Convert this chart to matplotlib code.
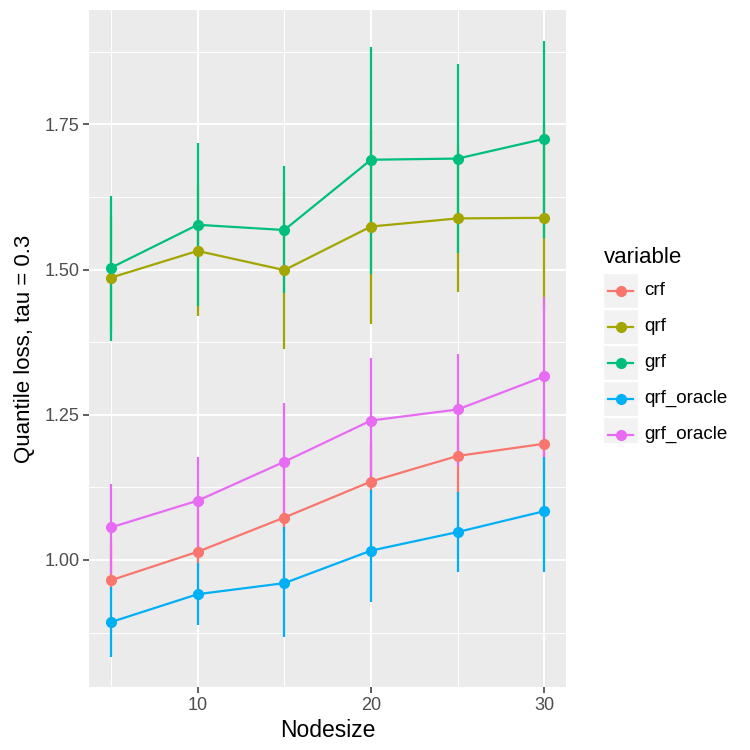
import matplotlib
matplotlib.use("Agg")
import matplotlib.pyplot as plt
from matplotlib.patches import Rectangle

plt.rcParams['font.family'] = ['Liberation Sans', 'DejaVu Sans']

nodesize = [5, 10, 15, 20, 25, 30]
variables = ["crf", "qrf", "grf", "qrf_oracle", "grf_oracle"]
colors = ["#F8766D", "#A3A500", "#00BF7D", "#00B0F6", "#E76BF3"]

# mean loss per method
crf = [0.965, 1.014, 1.073, 1.135, 1.179, 1.200]
qrf = [1.486, 1.532, 1.499, 1.574, 1.588, 1.589]
grf = [1.503, 1.577, 1.568, 1.689, 1.691, 1.725]
qrf_oracle = [0.893, 0.941, 0.960, 1.016, 1.048, 1.084]
grf_oracle = [1.056, 1.102, 1.169, 1.240, 1.259, 1.316]

# error bar ends
crf_lo = [0.950, 0.990, 1.050, 1.115, 1.112, 1.150]
crf_hi = [1.030, 1.080, 1.140, 1.200, 1.240, 1.260]
qrf_lo = [1.390, 1.420, 1.364, 1.406, 1.461, 1.430]
qrf_hi = [1.590, 1.645, 1.633, 1.740, 1.714, 1.750]
grf_lo = [1.377, 1.437, 1.459, 1.493, 1.529, 1.555]
grf_hi = [1.627, 1.717, 1.678, 1.883, 1.853, 1.893]
qrfo_lo = [0.833, 0.888, 0.867, 0.928, 0.980, 0.980]
qrfo_hi = [0.954, 0.994, 1.056, 1.120, 1.117, 1.178]
grfo_lo = [0.975, 1.020, 1.070, 1.135, 1.161, 1.178]
grfo_hi = [1.130, 1.177, 1.270, 1.347, 1.355, 1.453]

means = [crf, qrf, grf, qrf_oracle, grf_oracle]
lows = [crf_lo, qrf_lo, grf_lo, qrfo_lo, grfo_lo]
highs = [crf_hi, qrf_hi, grf_hi, qrfo_hi, grfo_hi]

fig = plt.figure(figsize=(7.5, 7.5), dpi=100)
ax = fig.add_axes([89.3 / 750, 63 / 750, 476.7 / 750, 677 / 750])
ax.set_facecolor("#EBEBEB")
for s in ax.spines.values():
    s.set_visible(False)

# error bars first, then lines and points on top
for m, lo, hi, c in zip(means, lows, highs, colors):
    ax.vlines(nodesize, lo, hi, color=c, lw=1.6, zorder=2)
for m, c in zip(means, colors):
    ax.plot(nodesize, m, color=c, lw=1.6, marker="o", ms=7, zorder=3)

ax.set_xlim(3.75, 31.25)
ax.set_ylim(0.7812, 1.9468)
ax.set_xticks([10, 20, 30])
ax.set_xticks([5, 15, 25], minor=True)
ax.set_yticks([1.00, 1.25, 1.50, 1.75])
ax.set_yticklabels(["1.00", "1.25", "1.50", "1.75"])
ax.set_yticks([0.875, 1.125, 1.375, 1.625, 1.875], minor=True)
ax.grid(which="major", color="white", lw=1.4, zorder=0)
ax.grid(which="minor", color="white", lw=0.7, zorder=0)
ax.set_axisbelow(True)
ax.tick_params(which="major", length=4, width=1.1, color="#333333",
               labelcolor="#4D4D4D", labelsize=13, pad=3)
ax.tick_params(which="minor", length=0)

ax.set_xlabel("Nodesize", fontsize=16.5, labelpad=4)
ax.set_ylabel("Quantile loss, tau = 0.3", fontsize=16, labelpad=7)

# legend drawn in its own axes, ggplot style
lax = fig.add_axes([600 / 750, 307 / 750, 150 / 750, 200 / 750])
lax.set_xlim(0, 150)
lax.set_ylim(200, 0)
lax.axis("off")
lax.text(4, 14, "variable", fontsize=16, va="center", ha="left")
for i, (name, c) in enumerate(zip(variables, colors)):
    y0 = 30 + i * 36
    lax.add_patch(Rectangle((3, y0), 35, 35, facecolor="#F2F2F2",
                            edgecolor="white", lw=1))
    lax.plot([8, 33], [y0 + 17.5, y0 + 17.5], color=c, lw=1.6)
    lax.plot([20.5], [y0 + 17.5], color=c, marker="o", ms=7)
    lax.text(44, y0 + 17.5, name, fontsize=13.5, va="center", ha="left")

fig.savefig("out.png", dpi=100)
